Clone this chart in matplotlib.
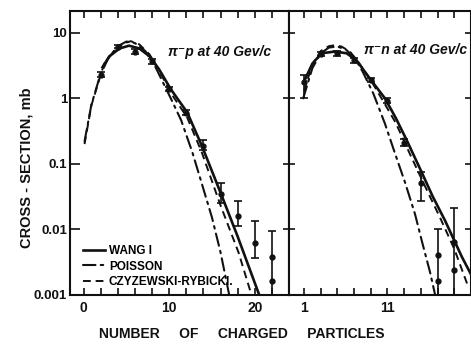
import matplotlib
matplotlib.use("Agg")
import matplotlib.pyplot as plt
from matplotlib import font_manager
from matplotlib.lines import Line2D

# ---- pi- p at 40 GeV/c (left panel) ----
P_N = [2, 4, 6, 8, 10, 12, 14, 16, 18, 20, 22]
P_SIG = [2.3, 6.2, 5.2, 3.7, 1.4, 0.6, 0.19, 0.035, 0.016, 0.0062, 0.0038]
P_LO = [2.1, 5.8, 4.8, 3.4, 1.3, 0.55, 0.16, 0.025, 0.011, 0.0036, 0.001]
P_HI = [2.5, 6.6, 5.6, 4.0, 1.5, 0.66, 0.23, 0.05, 0.027, 0.0135, 0.0095]
P_EXTRA_N = [22]
P_EXTRA_SIG = [0.0016]

P_WANG_N = [2.2, 3.0, 4.2, 5.3, 6.5, 7.7, 8.8, 10.2, 12.1, 13.8, 16.0, 18.0, 20.5]
P_WANG_S = [3.0, 4.4, 5.8, 6.4, 5.8, 4.4, 2.8, 1.37, 0.61, 0.19, 0.036, 0.0077, 0.001]
P_POIS_N = [0.1, 0.9, 1.9, 2.9, 4.0, 5.0, 6.0, 7.2, 8.4, 10.3, 11.4, 12.7, 13.8, 15.0, 16.0, 17.0]
P_POIS_S = [0.22, 0.8, 2.2, 4.2, 6.3, 7.4, 7.0, 5.3, 3.0, 0.93, 0.46, 0.15, 0.05, 0.015, 0.0044, 0.001]
P_CR_N = [0.1, 0.9, 1.9, 2.4, 3.6, 4.8, 5.5, 6.5, 7.7, 8.8, 10.2, 12.1, 13.8, 16.0, 18.1, 19.6]
P_CR_S = [0.2, 0.78, 2.1, 3.4, 5.4, 7.0, 7.5, 6.7, 4.7, 2.7, 1.2, 0.51, 0.15, 0.023, 0.0044, 0.001]

# ---- pi- n at 40 GeV/c (right panel) ----
N_N = [1, 3, 5, 7, 9, 11, 13, 15, 17, 19]
N_SIG = [1.8, 4.8, 4.9, 3.8, 1.9, 0.92, 0.21, 0.05, 0.004, 0.0063]
N_LO = [1.0, 4.4, 4.5, 3.5, 1.75, 0.85, 0.19, 0.027, 0.001, 0.001]
N_HI = [2.3, 5.2, 5.3, 4.1, 2.05, 1.0, 0.24, 0.075, 0.01, 0.021]
N_EXTRA_N = [17, 19]
N_EXTRA_SIG = [0.0016, 0.0024]

N_WANG_N = [0.9, 2.0, 3.1, 4.7, 6.1, 7.3, 8.9, 10.7, 12.0, 13.3, 15.1, 16.4, 17.9, 19.9, 20.95]
N_WANG_S = [1.7, 3.4, 4.9, 5.2, 4.9, 3.8, 2.0, 1.0, 0.5, 0.23, 0.074, 0.032, 0.0135, 0.0038, 0.0021]
N_POIS_N = [0.9, 2.0, 3.0, 4.0, 5.0, 6.0, 7.0, 8.0, 9.3, 10.7, 11.9, 13.1, 14.3, 15.2, 16.1, 16.7]
N_POIS_S = [1.0, 2.9, 4.9, 6.0, 6.2, 5.6, 4.3, 2.6, 1.19, 0.41, 0.144, 0.052, 0.017, 0.006, 0.0022, 0.001]
N_CR_N = [1.0, 2.0, 3.0, 4.0, 4.7, 5.5, 6.5, 7.5, 9.0, 10.5, 12.0, 13.7, 15.7, 17.3, 19.0, 20.6]
N_CR_S = [1.3, 3.3, 5.3, 6.3, 6.5, 6.2, 5.2, 3.6, 1.9, 0.9, 0.42, 0.14, 0.04, 0.015, 0.005, 0.0014]

Y_TICKS = [0.001, 0.01, 0.1, 1, 10]
Y_LABELS = ["0.001", "0.01", "0.1", "1", "10"]
P_XTICKS = list(range(0, 24, 2))
P_XLABELS = {0: "0", 10: "10", 20: "20"}
N_XTICKS = list(range(1, 21, 2))
N_XLABELS = {1: "1", 11: "11"}
LEGEND_LABELS = ["WANG I", "POISSON", "CZYZEWSKI-RYBICKI."]

INK = "#111111"

names = {f.name for f in font_manager.fontManager.ttflist}
FONT = "Liberation Sans" if "Liberation Sans" in names else "DejaVu Sans"
FAMILY = [FONT, "DejaVu Sans"]

SOLID = dict(color=INK, lw=1.9, ls="-")
POIS = dict(color=INK, lw=1.5, ls=(0, (6, 2.5, 1.2, 2.5)), dash_capstyle="round")
CR = dict(color=INK, lw=1.4, ls=(0, (4, 2.5)))

fig = plt.figure(figsize=(4.71, 3.44), dpi=100)
W, H = 471.0, 344.0
bottom = 1 - 294.5 / H
height = (294.5 - 11) / H
ax1 = fig.add_axes([70 / W, bottom, (289 - 70) / W, height])
ax2 = fig.add_axes([289 / W, bottom, (470.5 - 289) / W, height])


def draw(ax, n, sig, lo, hi, en, es, wn, ws, pn, ps, cn, cs):
    ax.plot(wn, ws, **SOLID)
    ax.plot(pn, ps, **POIS)
    ax.plot(cn, cs, **CR)
    yerr = [[s - l for s, l in zip(sig, lo)], [h - s for s, h in zip(sig, hi)]]
    ax.errorbar(n, sig, yerr=yerr, fmt="o", color=INK, ms=3.5,
                elinewidth=1.2, capsize=3, capthick=1.2)
    ax.plot(en, es, "o", color=INK, ms=3.5)
    ax.set_yscale("log")
    ax.set_ylim(0.001, 21.7)
    for s in ax.spines.values():
        s.set_linewidth(1.5)
        s.set_color(INK)


draw(ax1, P_N, P_SIG, P_LO, P_HI, P_EXTRA_N, P_EXTRA_SIG,
     P_WANG_N, P_WANG_S, P_POIS_N, P_POIS_S, P_CR_N, P_CR_S)
draw(ax2, N_N, N_SIG, N_LO, N_HI, N_EXTRA_N, N_EXTRA_SIG,
     N_WANG_N, N_WANG_S, N_POIS_N, N_POIS_S, N_CR_N, N_CR_S)

ax1.set_xlim(-1.6, 24.0)
ax2.set_xlim(-0.8, 20.95)

xtick_font = dict(family=FAMILY, weight="bold", size=10)
ytick_font = dict(family=FAMILY, weight="bold", size=9.5)

# left panel ticks
ax1.set_xticks(P_XTICKS, [P_XLABELS.get(t, "") for t in P_XTICKS], **xtick_font)
ax1.set_yticks(Y_TICKS, Y_LABELS, **ytick_font)
ax1.minorticks_off()
ax1.tick_params(axis="x", which="both", direction="in", length=5, width=1.2,
                top=True, pad=5, colors=INK)
ax1.tick_params(axis="y", which="both", direction="in", length=7, width=1.2,
                right=False, pad=2, colors=INK)

# right panel ticks
ax2.set_xticks(N_XTICKS, [N_XLABELS.get(t, "") for t in N_XTICKS], **xtick_font)
ax2.set_yticks(Y_TICKS, [""] * len(Y_TICKS))
ax2.minorticks_off()
ax2.tick_params(axis="x", which="both", direction="in", length=5, width=1.2,
                top=True, pad=5, colors=INK)
ax2.tick_params(axis="y", which="both", direction="inout", length=9, width=1.2,
                right=True, labelright=False, colors=INK)

# legend in lower left of left panel
handles = [Line2D([], [], **SOLID), Line2D([], [], **POIS), Line2D([], [], **CR)]
fig.legend(handles, LEGEND_LABELS, loc="upper left",
           bbox_to_anchor=(83 / W, 1 - 245 / H), frameon=False,
           prop=dict(family=FAMILY, weight="bold", size=8.5),
           handlelength=1.9, handletextpad=0.3, labelspacing=0.3,
           borderpad=0, borderaxespad=0)

# panel titles
title_font = dict(family=FAMILY, weight="bold", style="italic", size=10, color=INK)
fig.text(168 / W, 1 - 52 / H, "\u03c0\u207bp at 40 Gev/c", ha="left", va="center", **title_font)
fig.text(364 / W, 1 - 50 / H, "\u03c0\u207bn at 40 Gev/c", ha="left", va="center", **title_font)

# axis labels
fig.text(242 / W, 1 - 334 / H, "NUMBER     OF     CHARGED     PARTICLES",
         ha="center", va="center", family=FAMILY, weight="bold", size=10, color=INK)
fig.text(27 / W, 1 - 168 / H, "CROSS - SECTION, mb", rotation=90,
         ha="center", va="center", family=FAMILY, weight="bold", size=10.5, color=INK)

fig.savefig("out.png", dpi=100)
